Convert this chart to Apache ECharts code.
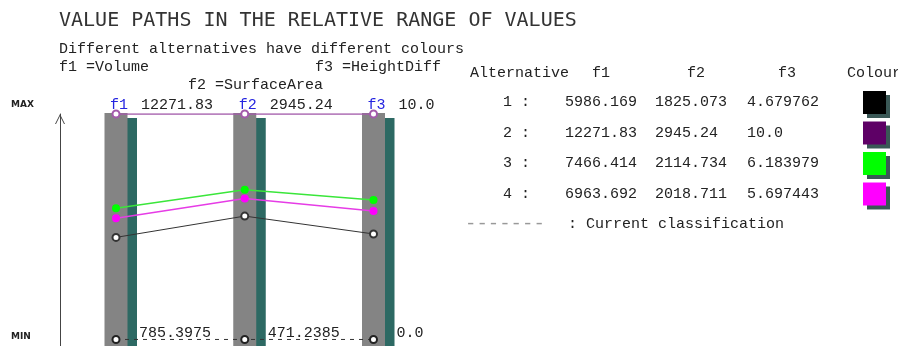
<!DOCTYPE html>
<html>
<head>
<meta charset="utf-8">
<script src="https://cdn.jsdelivr.net/npm/echarts@6/dist/echarts.min.js"></script>
<style>
  html, body { margin: 0; padding: 0; background: #fff; }
  #chart { width: 898px; height: 346px; }
</style>
</head>
<body>
<div id="chart"></div>
<script>
// criteria (columns of the value path plot)
const criteria = ['f1', 'f2', 'f3']
const criteriaNames = ['Volume', 'SurfaceArea', 'HeightDiff']
const minValues = [785.3975, 471.2385, 0.0]
const maxValues = [12271.83, 2945.24, 10.0]
const minLabels = ['785.3975', '471.2385', '0.0']
const maxLabels = ['12271.83', '2945.24', '10.0']

// alternatives, one array per alternative (f1, f2, f3)
const altNames = ['1', '2', '3', '4']
const alt1 = [5986.169, 1825.073, 4.679762]
const alt2 = [12271.83, 2945.24, 10.0]
const alt3 = [7466.414, 2114.734, 6.183979]
const alt4 = [6963.692, 2018.711, 5.697443]
const alt1Text = ['5986.169', '1825.073', '4.679762']
const alt2Text = ['12271.83', '2945.24', '10.0']
const alt3Text = ['7466.414', '2114.734', '6.183979']
const alt4Text = ['6963.692', '2018.711', '5.697443']
// current classification sits at the bottom of each range
const current = [785.3975, 471.2385, 0.0]

const swatchColours = ['#000000', '#5e0066', '#00ff00', '#ff00ff']
const lineColours = ['#333333', '#a35bab', '#3ae63a', '#e63ce6']

const Y_MIN = -0.029
const MONO = 'Liberation Mono, DejaVu Sans Mono, monospace'

const norm = (vals) => vals.map((v, j) => (v - minValues[j]) / (maxValues[j] - minValues[j]))

const alts = [alt1, alt2, alt3, alt4]
const altTexts = [alt1Text, alt2Text, alt3Text, alt4Text]

const chart = echarts.init(document.getElementById('chart'))

const altSeries = alts.map((vals, i) => {
    const hollow = i < 2
    return {
        name: altNames[i],
        type: 'line',
        z: 3,
        data: norm(vals),
        symbol: hollow ? 'emptyCircle' : 'circle',
        symbolSize: hollow ? 7 : 8,
        lineStyle: { color: lineColours[i], width: i === 0 ? 1 : 1.5 },
        itemStyle: { color: hollow ? lineColours[i] : swatchColours[i] },
        emphasis: { disabled: true },
    }
})

const cell = (w) => ({ width: w, align: 'left', fontFamily: MONO, fontSize: 15, color: '#222' })
const txt = (x, y, text, extra) => ({
    type: 'text', x, y,
    style: Object.assign({ text, font: '15px ' + MONO, fill: '#222', verticalAlign: 'middle' }, extra || {}),
})

const option = {
    animation: false,
    grid: { left: 116, right: 898 - 373.5, top: 114, bottom: 0 },
    xAxis: {
        type: 'category',
        data: criteria,
        boundaryGap: false,
        show: false,
    },
    yAxis: {
        type: 'value',
        min: Y_MIN,
        max: 1,
        offset: 56,
        axisLine: {
            show: true,
            symbol: ['none', 'path://M5,0 L10,10 L9,10 L5,2 L1,10 L0,10 Z'],
            symbolSize: [10, 11],
            symbolOffset: [0, -5],
            lineStyle: { color: '#444', width: 1 },
        },
        axisTick: { show: false },
        axisLabel: { show: false },
        splitLine: { show: false },
    },
    legend: {
        orient: 'vertical',
        left: 503,
        top: 91,
        padding: 0,
        align: 'right',
        icon: 'rect',
        itemWidth: 23,
        itemHeight: 23,
        itemGap: 7.5,
        selectedMode: false,
        data: altNames.map((n, i) => ({
            name: n,
            itemStyle: {
                color: swatchColours[i],
                borderWidth: 0,
                shadowColor: '#3a5856',
                shadowOffsetX: 4,
                shadowOffsetY: 4,
                shadowBlur: 0,
            },
        })),
        formatter: (name) => {
            const i = altNames.indexOf(name)
            const t = altTexts[i]
            return `{a|${name} :}{b|${t[0]}}{c|${t[1]}}{d|${t[2]}}`
        },
        textStyle: {
            fontFamily: MONO,
            fontSize: 15,
            color: '#222',
            rich: { a: cell(62), b: cell(90), c: cell(92), d: cell(111) },
        },
    },
    graphic: [
        txt(59, 21, 'VALUE PATHS IN THE RELATIVE RANGE OF VALUES', { font: '20px DejaVu Sans Mono', fill: '#333' }),
        txt(59, 49, 'Different alternatives have different colours'),
        txt(59, 67, criteria[0] + ' =' + criteriaNames[0]),
        txt(188, 85, criteria[1] + ' =' + criteriaNames[1]),
        txt(315, 67, criteria[2] + ' =' + criteriaNames[2]),
        txt(11, 105, 'MAX', { font: 'bold 9px DejaVu Sans' }),
        txt(11, 337, 'MIN', { font: 'bold 9px DejaVu Sans' }),
        txt(470, 73, 'Alternative'),
        txt(592, 73, criteria[0]),
        txt(687, 73, criteria[1]),
        txt(778, 73, criteria[2]),
        txt(847, 73, 'Colour'),
        txt(465, 224, '-------', { font: '19px ' + MONO, fill: '#999' }),
        txt(568, 224, ': Current classification'),
    ],
    series: [
        // grey criterion bars with their teal shadow
        {
            type: 'custom',
            z: 1,
            silent: true,
            clip: false,
            data: criteria.map((c, i) => [i]),
            encode: { x: 0 },
            renderItem: (params, api) => {
                const i = api.value(0)
                const top = api.coord([i, 1])
                const bot = api.coord([i, Y_MIN])
                const w = 23
                return {
                    type: 'group',
                    children: [
                        { type: 'rect', shape: { x: top[0] - w / 2 + 9.5, y: top[1] + 4, width: w, height: bot[1] - top[1] }, style: { fill: '#2d6963' } },
                        { type: 'rect', shape: { x: top[0] - w / 2, y: top[1] - 1, width: w, height: bot[1] - top[1] + 1 }, style: { fill: '#848484' } },
                    ],
                }
            },
        },
        ...altSeries,
        {
            name: 'Current classification',
            type: 'line',
            z: 3,
            data: norm(current),
            symbol: 'emptyCircle',
            symbolSize: 7,
            lineStyle: { color: '#333', width: 1, type: [4, 5] },
            itemStyle: { color: '#222' },
            emphasis: { disabled: true },
        },
        // criterion names and range end values
        {
            type: 'custom',
            z: 5,
            silent: true,
            clip: false,
            data: criteria.map((c, i) => [i]),
            encode: { x: 0 },
            renderItem: (params, api) => {
                const i = api.value(0)
                const top = api.coord([i, 1])
                const bot = api.coord([i, 0])
                return {
                    type: 'group',
                    children: [
                        txt(top[0] - 6, top[1] - 9, criteria[i], { fill: '#2424e0' }),
                        txt(top[0] + 25, top[1] - 9, maxLabels[i]),
                        txt(bot[0] + 23, bot[1] - 6, minLabels[i]),
                    ],
                }
            },
        },
    ],
}

chart.setOption(option)
</script>
</body>
</html>
